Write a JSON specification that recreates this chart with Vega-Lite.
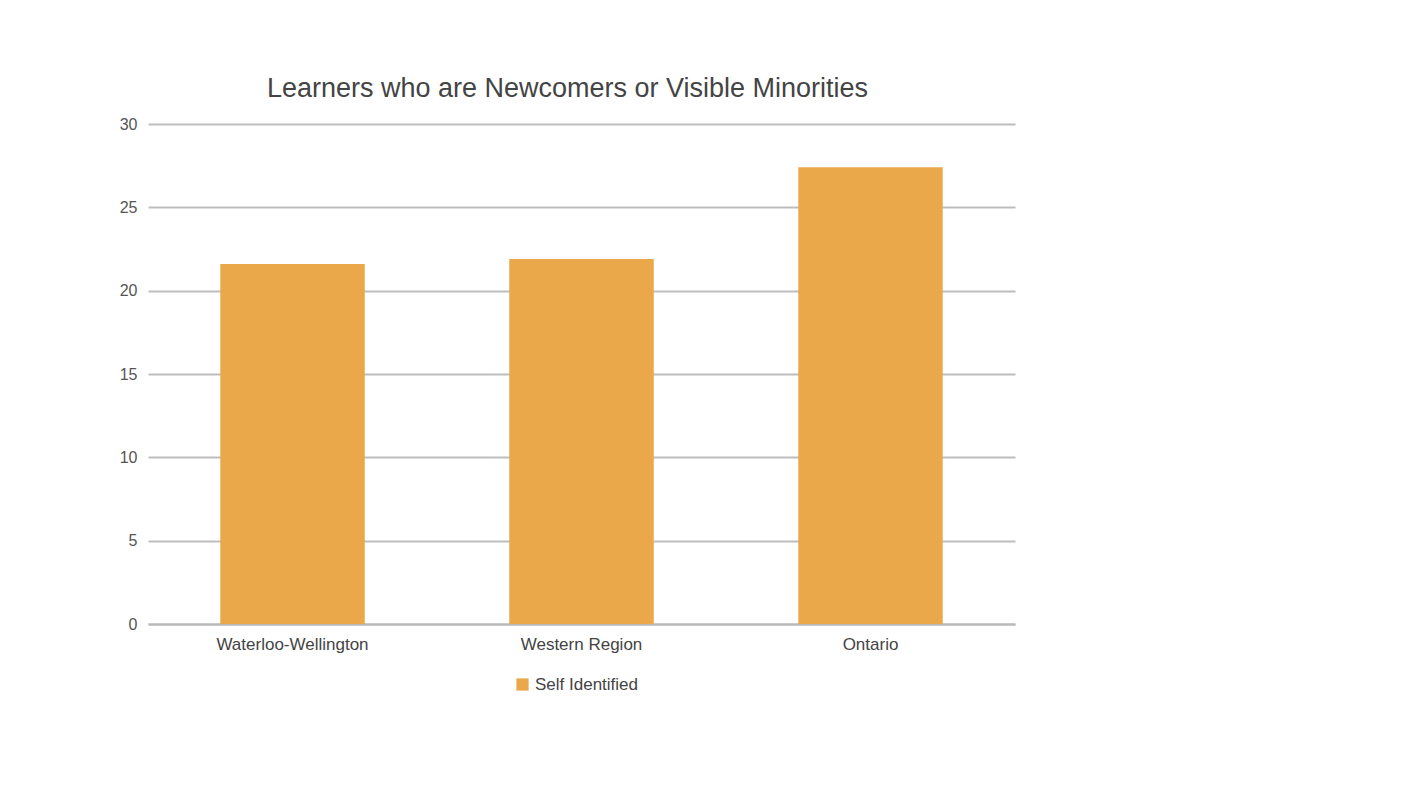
{
  "$schema": "https://vega.github.io/schema/vega-lite/v6.json",
  "autosize": "none",
  "width": 867,
  "height": 500,
  "padding": {"left": 148, "top": 124, "right": 411, "bottom": 174},
  "background": "white",
  "data": {"values": [
    {"region": "Waterloo-Wellington", "series": "Self Identified", "value": 21.6},
    {"region": "Western Region", "series": "Self Identified", "value": 21.9},
    {"region": "Ontario", "series": "Self Identified", "value": 27.4}
  ]},
  "title": {
    "text": "Learners who are Newcomers or Visible Minorities",
    "frame": "group",
    "anchor": "middle",
    "dx": -14,
    "offset": -8,
    "baseline": "alphabetic",
    "font": "Liberation Sans",
    "fontSize": 27,
    "fontWeight": "normal",
    "color": "#444444"
  },
  "mark": {"type": "bar", "color": "#EAA84B"},
  "encoding": {
    "x": {
      "field": "region", "type": "nominal", "sort": null,
      "scale": {"paddingInner": 0.5, "paddingOuter": 0.25},
      "axis": {"title": null, "labelAngle": 0, "ticks": false, "domainColor": "#b8b8b8", "domainWidth": 2, "labelPadding": 12, "labelFontSize": 17, "labelFont": "Liberation Sans", "labelColor": "#444444"}
    },
    "y": {
      "field": "value", "type": "quantitative",
      "scale": {"domain": [0, 30]},
      "axis": {"title": null, "values": [0, 5, 10, 15, 20, 25, 30], "domain": false, "ticks": false, "gridColor": "#bdbdbd", "gridWidth": 2, "labelPadding": 11, "labelFontSize": 16, "labelFont": "Liberation Sans", "labelColor": "#555555"}
    },
    "fill": {
      "field": "series", "type": "nominal",
      "scale": {"range": ["#EAA84B"]},
      "legend": {"title": null, "orient": "none", "legendX": 366, "legendY": 552, "symbolType": "square", "symbolSize": 150, "symbolStrokeWidth": 0, "labelFontSize": 17, "labelFont": "Liberation Sans", "labelColor": "#444444", "labelOffset": 4}
    }
  },
  "config": {"view": {"stroke": null}}
}
